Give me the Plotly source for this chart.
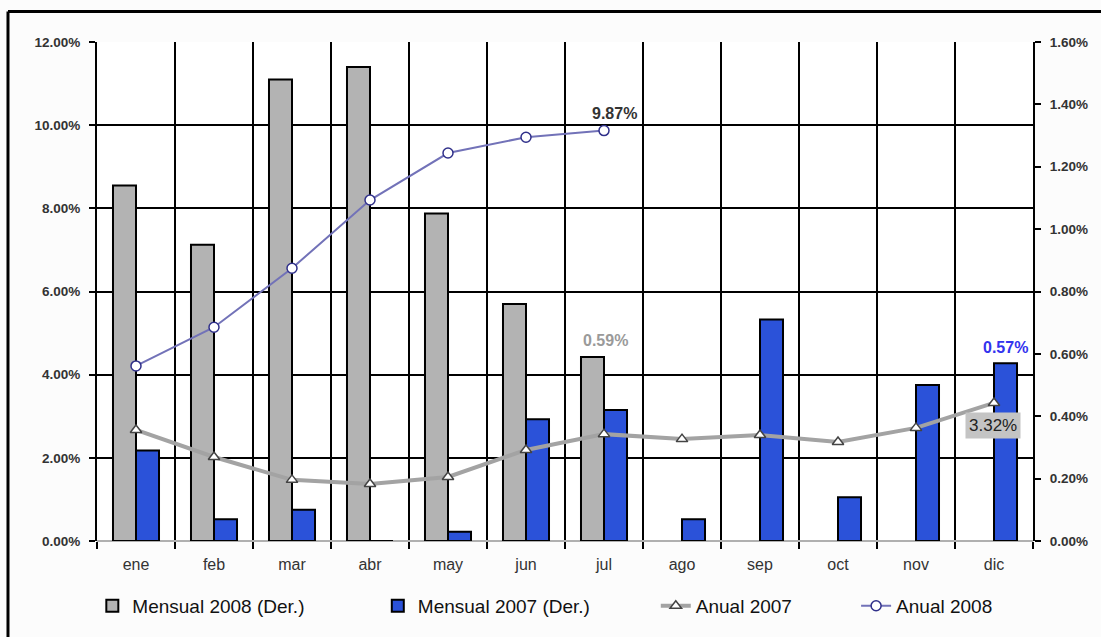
import plotly.graph_objects as go

# Monthly categories
meses = ["ene", "feb", "mar", "abr", "may", "jun", "jul", "ago", "sep", "oct", "nov", "dic"]

# Monthly inflation (right axis, %)
mensual_2008 = [1.14, 0.95, 1.48, 1.52, 1.05, 0.76, 0.59, None, None, None, None, None]
mensual_2007 = [0.29, 0.07, 0.10, 0.00, 0.03, 0.39, 0.42, 0.07, 0.71, 0.14, 0.50, 0.57]

# Accumulated annual inflation (left axis, %)
anual_2007 = [2.67, 2.02, 1.47, 1.37, 1.54, 2.19, 2.57, 2.45, 2.55, 2.38, 2.72, 3.32]
anual_2008 = [4.21, 5.14, 6.56, 8.20, 9.33, 9.71, 9.87, None, None, None, None, None]

FONT = "Liberation Sans, Arial, sans-serif"

fig = go.Figure()

fig.add_trace(go.Bar(
    x=meses, y=mensual_2008, name="Mensual 2008 (Der.)",
    marker=dict(color="#b3b3b3", line=dict(color="#000000", width=2)),
    yaxis="y", legend="legend",
))
fig.add_trace(go.Bar(
    x=meses, y=mensual_2007, name="Mensual 2007 (Der.)",
    marker=dict(color="#2b52d9", line=dict(color="#000000", width=2)),
    yaxis="y", legend="legend2",
))
fig.add_trace(go.Scatter(
    x=meses, y=anual_2007, name="Anual 2007", mode="lines+markers",
    line=dict(color="#a3a3a3", width=4),
    marker=dict(symbol="triangle-up", size=10, color="#ffffff",
                line=dict(color="#444444", width=1.5)),
    yaxis="y2", legend="legend3",
))
fig.add_trace(go.Scatter(
    x=meses, y=anual_2008, name="Anual 2008", mode="lines+markers",
    line=dict(color="#7272b8", width=2),
    marker=dict(symbol="circle", size=10, color="#ffffff",
                line=dict(color="#30308a", width=1.5)),
    yaxis="y2", legend="legend4",
))

# Value labels
fig.add_annotation(x="jul", y=anual_2008[6], yref="y2", text=f"<b>{anual_2008[6]:.2f}%</b>",
                   showarrow=False, yshift=17, xshift=10,
                   font=dict(family=FONT, size=16, color="#333333"))
fig.add_annotation(x="jul", y=mensual_2008[6], yref="y", text=f"<b>{mensual_2008[6]:.2f}%</b>",
                   showarrow=False, yshift=16, xshift=1,
                   font=dict(family=FONT, size=16, color="#9a9a9a"))
fig.add_annotation(x="dic", y=mensual_2007[11], yref="y", text=f"<b>{mensual_2007[11]:.2f}%</b>",
                   showarrow=False, yshift=16, xshift=11,
                   font=dict(family=FONT, size=16, color="#3333ee"))
fig.add_annotation(x="dic", y=anual_2007[11], yref="y2", text=f"{anual_2007[11]:.2f}%",
                   showarrow=False, yshift=-23, xshift=-1, bgcolor="#c4c4c4", borderpad=3,
                   font=dict(family=FONT, size=17, color="#222222"))

# Outer frame (top and left edges)
fig.add_shape(type="line", xref="paper", yref="paper", x0=-0.0951, x1=1.08, y0=1.061, y1=1.061,
              line=dict(color="#000000", width=3))
fig.add_shape(type="line", xref="paper", yref="paper", x0=-0.0951, x1=-0.0951, y0=1.061, y1=-0.2,
              line=dict(color="#000000", width=3))

legend_common = dict(orientation="h", yanchor="middle", y=-0.130, xanchor="left",
                     font=dict(family=FONT, size=19, color="#111111"),
                     bgcolor="rgba(0,0,0,0)", borderwidth=0, itemwidth=30)

fig.update_layout(
    width=1101, height=637,
    margin=dict(l=97, r=68, t=42, b=96),
    paper_bgcolor="#fcfcfc", plot_bgcolor="#ffffff",
    showlegend=True,
    barmode="group", bargap=0.41, bargroupgap=0,
    font=dict(family=FONT, color="#333333"),
    xaxis=dict(
        type="category", range=[-0.5, 11.5], tickson="boundaries",
        showgrid=True, gridcolor="#000000", gridwidth=2,
        ticks="outside", ticklen=7, tickwidth=2, tickcolor="#000000",
        showline=False, ticklabelstandoff=12,
        tickfont=dict(family=FONT, size=16, color="#333333"),
    ),
    yaxis=dict(
        side="right", range=[0, 1.6], dtick=0.2, tickformat=".2f", ticksuffix="%",
        showgrid=False, zeroline=False, showline=True, linecolor="#000000", linewidth=2,
        ticks="outside", ticklen=6, tickwidth=2, tickcolor="#000000", ticklabelstandoff=6,
        tickfont=dict(family=FONT, size=13.5, color="#333333", weight="bold"),
    ),
    yaxis2=dict(
        side="left", overlaying="y", range=[0, 12], dtick=2, tickformat=".2f", ticksuffix="%",
        showgrid=True, gridcolor="#000000", gridwidth=2,
        zeroline=True, zerolinecolor="#b0b0b0", zerolinewidth=2,
        showline=True, linecolor="#000000", linewidth=2,
        ticks="outside", ticklen=6, tickwidth=2, tickcolor="#000000", ticklabelstandoff=6,
        tickfont=dict(family=FONT, size=13.5, color="#333333", weight="bold"),
    ),
    legend=dict(legend_common, x=-0.005),
    legend2=dict(legend_common, x=0.300),
    legend3=dict(legend_common, x=0.597),
    legend4=dict(legend_common, x=0.811),
)

fig.write_html("out.html")
